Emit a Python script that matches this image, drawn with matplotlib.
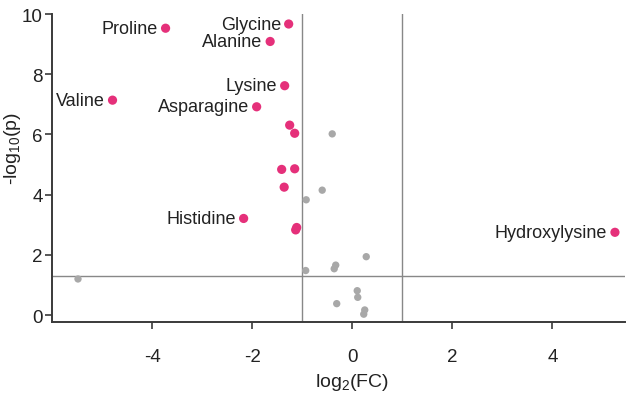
import matplotlib
matplotlib.use("Agg")
import matplotlib.pyplot as plt

FONT = "Liberation Sans"
plt.rcParams['font.family'] = [FONT, 'DejaVu Sans']
plt.rcParams['mathtext.fontset'] = 'custom'
plt.rcParams['mathtext.rm'] = FONT
plt.rcParams['mathtext.it'] = FONT

# significant (pink) points
sig_labels = ["Proline", "Glycine", "Alanine", "Lysine", "Valine", "Asparagine",
              "", "", "", "", "", "Histidine", "", "", "Hydroxylysine"]
sig_x = [-3.73, -1.27, -1.64, -1.35, -4.79, -1.91,
         -1.25, -1.15, -1.41, -1.15, -1.36, -2.17, -1.11, -1.13, 5.25]
sig_y = [9.53, 9.67, 9.09, 7.62, 7.14, 6.92,
         6.31, 6.04, 4.84, 4.86, 4.25, 3.21, 2.91, 2.83, 2.75]

# non-significant (gray) points
ns_x = [-0.40, -0.60, -0.92, 0.28, -0.33, -0.36, -0.93, 0.10, 0.11, -0.31, 0.25, 0.23, -5.48]
ns_y = [6.02, 4.15, 3.83, 1.94, 1.66, 1.54, 1.48, 0.81, 0.59, 0.38, 0.17, 0.03, 1.20]

x_ticks = [-4, -2, 0, 2, 4]
y_ticks = [0, 2, 4, 6, 8, 10]
fc_cut = [-1, 1]
p_cut = 1.301

PINK = "#E5307A"
GRAY = "#A8A8A8"
DARK = "#3a3a3a"
TXT = "#222222"

fig = plt.figure(figsize=(6.3, 4.02), dpi=100)
ax = fig.add_axes([0.0825, 0.1965, 0.9095, 0.766])

ax.set_xlim(-6, 5.45)
ax.set_ylim(-0.23, 10)

for v in fc_cut:
    ax.axvline(v, color="#888888", lw=1.0, zorder=1)
ax.axhline(p_cut, color="#888888", lw=1.0, zorder=1)

ax.scatter(ns_x, ns_y, s=28, color=GRAY, edgecolors="none", zorder=2)
ax.scatter(sig_x, sig_y, s=44, color=PINK, edgecolors="none", zorder=3)

for lab, x, y in zip(sig_labels, sig_x, sig_y):
    if lab:
        ax.annotate(lab, (x, y), xytext=(-5.5, 0), textcoords="offset points",
                    ha="right", va="center", fontsize=13, color=TXT)

for s in ["top", "right"]:
    ax.spines[s].set_visible(False)
for s in ["left", "bottom"]:
    ax.spines[s].set_color(DARK)
    ax.spines[s].set_linewidth(1.4)

ax.set_xticks(x_ticks)
ax.set_xticklabels([str(t) for t in x_ticks])
ax.set_yticks(y_ticks)
ax.set_yticklabels([str(t) for t in y_ticks])
ax.tick_params(axis="both", direction="out", length=5, width=1.2, color=DARK,
               labelsize=13.5, labelcolor=TXT)
ax.tick_params(axis="y", pad=1.5)
ax.tick_params(axis="x", pad=14)

ax.set_xlabel("log$_2$(FC)", fontsize=14, color=TXT)
ax.set_ylabel("-log$_{10}$(p)", fontsize=14, color=TXT)
ax.xaxis.set_label_coords((352 - 52) / 573, -(383 - 323) / 308)
ax.xaxis.label.set_va("center")
ax.yaxis.set_label_coords(-(52 - 13) / 573, (323 - 148) / 308)
ax.yaxis.label.set_va("center")

fig.savefig("out.png", dpi=100)
